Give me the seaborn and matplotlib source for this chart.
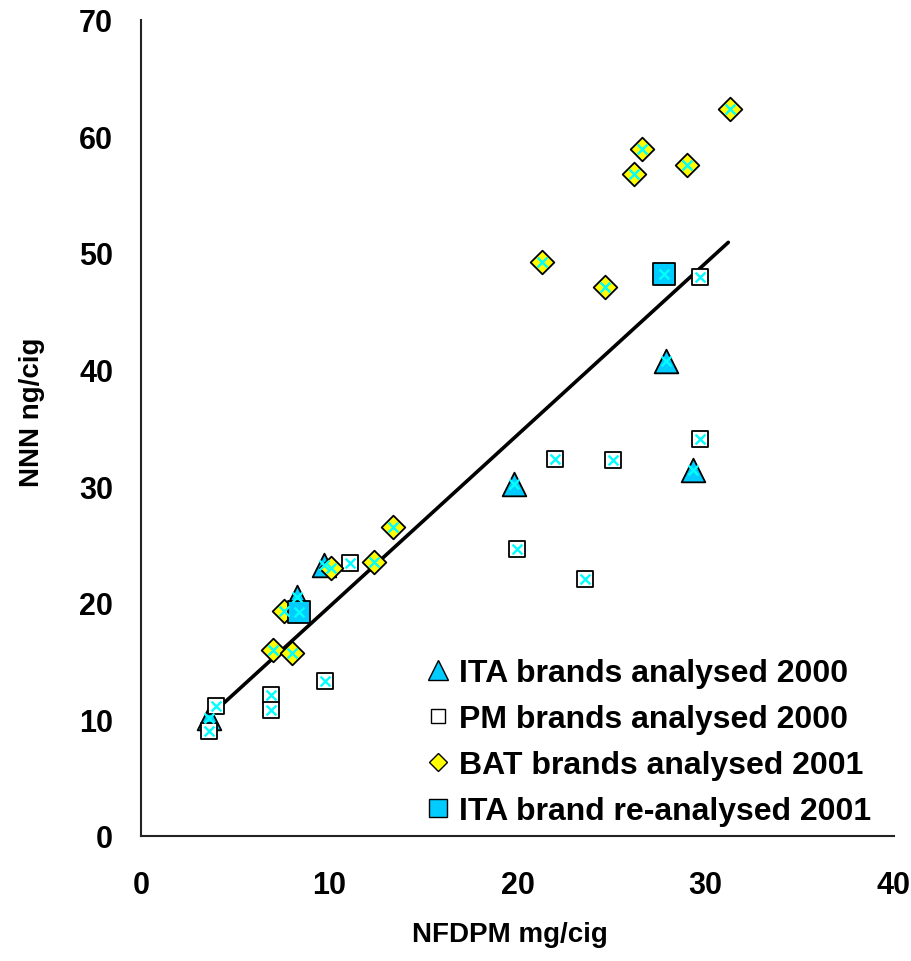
import matplotlib
matplotlib.use("Agg")
import matplotlib.pyplot as plt
from matplotlib.lines import Line2D
import seaborn as sns
import pandas as pd

# ---- data ----
ita2000_x = [3.6, 8.3, 9.7, 19.8, 27.9, 29.3]
ita2000_y = [10.1, 20.5, 23.2, 30.2, 40.7, 31.4]

pm2000_x = [3.6, 4.0, 6.9, 6.9, 9.8, 11.1, 20.0, 22.0, 23.6, 25.1, 29.7, 29.7]
pm2000_y = [9.0, 11.1, 12.1, 10.8, 13.3, 23.4, 24.6, 32.3, 22.0, 32.2, 34.0, 47.9]

bat2001_x = [7.0, 8.0, 7.6, 10.1, 12.4, 13.4, 21.3, 24.65, 26.2, 26.6, 29.0, 31.3]
bat2001_y = [15.9, 15.7, 19.3, 23.0, 23.5, 26.45, 49.2, 47.1, 56.75, 58.9, 57.5, 62.3]

ita2001_x = [8.4, 27.8]
ita2001_y = [19.2, 48.2]

fit_x = [3.6, 31.2]
fit_y = [10.2, 50.9]

labels = ["ITA brands analysed 2000", "PM brands analysed 2000",
          "BAT brands analysed 2001", "ITA brand re-analysed 2001"]
x_ticks = [0, 10, 20, 30, 40]
y_ticks = [0, 10, 20, 30, 40, 50, 60, 70]

CYAN = "#00CCFF"
YELLOW = "#FFFF00"

sns.set_theme(style="white")
plt.rcParams["font.family"] = ["Liberation Sans", "DejaVu Sans"]
plt.rcParams["font.weight"] = "bold"
plt.rcParams["text.color"] = "black"
plt.rcParams["axes.labelcolor"] = "black"
plt.rcParams["xtick.color"] = "black"
plt.rcParams["ytick.color"] = "black"

fig = plt.figure(figsize=(9.11, 9.62), dpi=100)
ax = fig.add_axes([0.1548, 0.1302, 0.8265, 0.8483])

# fit line
sns.lineplot(x=fit_x, y=fit_y, ax=ax, color="black", linewidth=2.6, zorder=2)

def scat(xs, ys, marker, face, size, z):
    sns.scatterplot(x=xs, y=ys, ax=ax, marker=marker, color=face, s=size,
                    edgecolor="black", linewidth=1.3, zorder=z, legend=False)

scat(ita2000_x, ita2000_y, "^", CYAN, 290, 3)
scat(pm2000_x, pm2000_y, "s", "white", 135, 3)
scat(bat2001_x, bat2001_y, "D", YELLOW, 145, 4)
scat(ita2001_x, ita2001_y, "s", CYAN, 270, 5)

# cyan cross over every point
all_x = ita2000_x + pm2000_x + bat2001_x + ita2001_x
all_y = ita2000_y + pm2000_y + bat2001_y + ita2001_y
sns.scatterplot(x=all_x, y=all_y, ax=ax, marker="x", color="#00FFFF",
                s=50, linewidth=1.7, zorder=6, legend=False)

ax.set_xlim(0, 40)
ax.set_ylim(0, 70)
ax.set_xticks(x_ticks)
ax.set_yticks(y_ticks)
ax.set_xticklabels([str(t) for t in x_ticks], fontsize=22, fontweight="bold", color="black")
ax.set_yticklabels([str(t) for t in y_ticks], fontsize=22, fontweight="bold", color="black")
ax.tick_params(axis="x", direction="out", length=8, width=1.3, pad=17, colors="black")
ax.tick_params(axis="y", direction="out", length=8, width=1.3, pad=12, colors="black")
ax.spines["top"].set_visible(False)
ax.spines["right"].set_visible(False)
for s in ("left", "bottom"):
    ax.spines[s].set_color("#222222")
    ax.spines[s].set_linewidth(1.5)

ax.set_xlabel("NFDPM mg/cig", fontsize=20, fontweight="bold", color="black")
ax.set_ylabel("NNN ng/cig", fontsize=20, fontweight="bold", color="black")
ax.xaxis.set_label_coords(0.49, -0.105)
ax.yaxis.set_label_coords(-0.127, 0.52)

handles = [
    Line2D([], [], linestyle="none", marker="^", markersize=14, markerfacecolor=CYAN,
           markeredgecolor="black", markeredgewidth=1.0),
    Line2D([], [], linestyle="none", marker="s", markersize=10, markerfacecolor="white",
           markeredgecolor="black", markeredgewidth=1.0),
    Line2D([], [], linestyle="none", marker="D", markersize=9.5, markerfacecolor=YELLOW,
           markeredgecolor="black", markeredgewidth=1.0),
    Line2D([], [], linestyle="none", marker="s", markersize=12.5, markerfacecolor=CYAN,
           markeredgecolor="black", markeredgewidth=1.0),
]
leg = ax.legend(handles, labels, loc="lower right", bbox_to_anchor=(0.995, -0.012),
                frameon=False, handlelength=0.8, handletextpad=0.25,
                labelspacing=0.5, borderaxespad=0.2,
                prop={"size": 23, "weight": "bold"})
for t in leg.get_texts():
    t.set_color("black")

fig.savefig("out.png", dpi=100)
